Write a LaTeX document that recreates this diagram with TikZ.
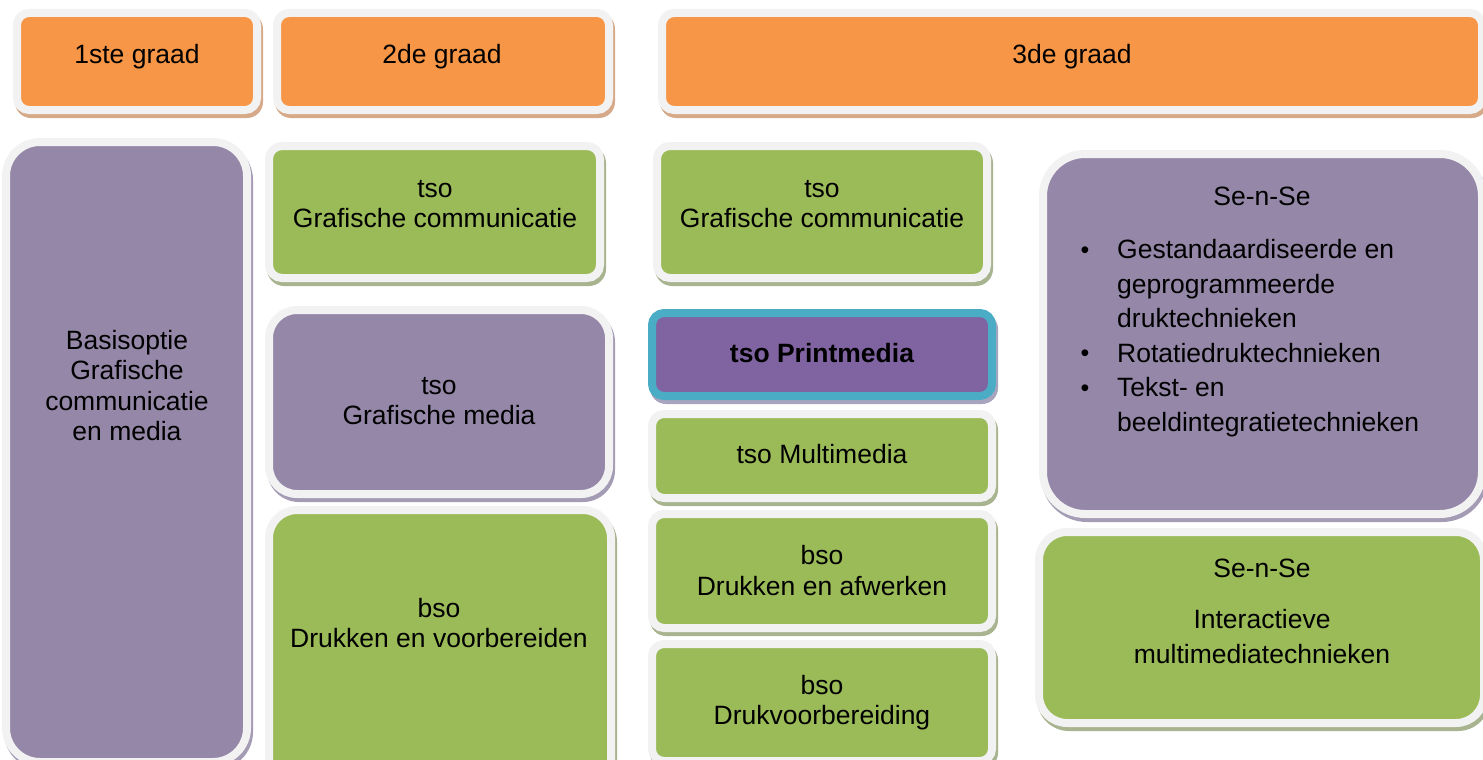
\documentclass[tikz,border=0pt]{standalone}
\usepackage{fontspec}
\setmainfont{Liberation Sans}
\definecolor{cOrange}{HTML}{F79646}
\definecolor{cGreen}{HTML}{9BBB59}
\definecolor{cLilac}{HTML}{9587A8}
\definecolor{cPm}{HTML}{8064A2}
\definecolor{cTeal}{HTML}{4BACC6}
\definecolor{cBorder}{HTML}{F2F2F2}
\definecolor{sOrange}{HTML}{D6AA88}
\definecolor{sGreen}{HTML}{A8B48F}
\definecolor{sLilac}{HTML}{A49BB5}
\definecolor{sPm}{HTML}{A9A4BE}
% #1 name, #2 x1, #3 y1, #4 x2, #5 y2 (inner fill), #6 fill, #7 border, #8 shadow, #9 radius
\newcommand\cbox[9]{%
  \fill[#8, rounded corners=#9+8] (#2-6,#3-4) rectangle (#4+10,#5+12);
  \node[cb, fill=#6, draw=#7, rounded corners=#9+4,
        minimum width={#4-#2+8}, minimum height={#5-#3+8}]
        (#1) at ({(#2+#4)/2},{(#3+#5)/2}) {};
}
\begin{document}
\begin{tikzpicture}[x=1pt,y=-1pt,
  cb/.style={rectangle, inner sep=0pt, outer sep=0pt, line width=8pt},
  lbl/.style={font=\fontsize{26.5}{30.5}\selectfont, align=center, anchor=base, inner sep=0pt, text=black},
  bul/.style={lbl, font=\fontsize{25}{30}\selectfont}]
\useasboundingbox (0,0) rectangle (1483,760);
\fill[white] (0,0) rectangle (1483,760);
\clip (0,0) rectangle (1483,760);
% header row
\cbox{h1}{21}{17}{253}{106}{cOrange}{cBorder}{sOrange}{8}
\cbox{h2}{281}{17}{605}{106}{cOrange}{cBorder}{sOrange}{8}
\cbox{h3}{666}{17}{1478}{106}{cOrange}{cBorder}{sOrange}{8}
% first grade
\cbox{basis}{10}{146}{243}{758}{cLilac}{cBorder}{sLilac}{30}
% second grade
\cbox{g2a}{273}{150}{596}{274}{cGreen}{cBorder}{sGreen}{9}
\cbox{g2b}{273}{314}{605}{490}{cLilac}{cBorder}{sLilac}{24}
\cbox{g2c}{273}{514}{607}{790}{cGreen}{cBorder}{sGreen}{24}
% third grade
\cbox{g3a}{661}{150}{983}{274}{cGreen}{cBorder}{sGreen}{9}
\cbox{pm}{656}{317}{988}{392}{cPm}{cTeal}{sPm}{8}
\cbox{mm}{656}{418}{988}{494}{cGreen}{cBorder}{sGreen}{8}
\cbox{da}{656}{518}{988}{624}{cGreen}{cBorder}{sGreen}{8}
\cbox{dv}{656}{648}{988}{757}{cGreen}{cBorder}{sGreen}{8}
% Se-n-Se
\cbox{s1}{1047}{158}{1478}{510}{cLilac}{cBorder}{sLilac}{38}
\cbox{s2}{1043}{536}{1480}{719}{cGreen}{cBorder}{sGreen}{24}
% texts (base anchor = baseline of last line)
\node[lbl] (t1) at (137,63.3) {1ste graad};
\node[lbl] (t2) at (442,63.3) {2de graad};
\node[lbl] (t3) at (1072,63.3) {3de graad};
\node[lbl] (tb) at (127,440.5) {Basisoptie\\Grafische\\communicatie\\en media};
\node[lbl] (t2a) at (435,227.5) {tso\\Grafische communicatie};
\node[lbl] (t2b) at (439,424.5) {tso\\Grafische media};
\node[lbl] (t2c) at (439,647.5) {bso\\Drukken en voorbereiden};
\node[lbl] (t3a) at (822,227.5) {tso\\Grafische communicatie};
\node[lbl, font=\fontsize{26.5}{30.5}\selectfont\bfseries] (t3b) at (822,362) {tso Printmedia};
\node[lbl] (t3c) at (822,463.5) {tso Multimedia};
\node[lbl] (t3d) at (822,595) {bso\\Drukken en afwerken};
\node[lbl] (t3e) at (822,724.5) {bso\\Drukvoorbereiding};
\node[lbl] (ts1) at (1262,205.5) {Se-n-Se};
\node[lbl, anchor=base west, align=left, font=\fontsize{26.5}{34.5}\selectfont] (tl) at (1117,431)
  {Gestandaardiseerde en\\geprogrammeerde\\druktechnieken\\Rotatiedruktechnieken\\Tekst- en\\beeldintegratietechnieken};
\node[bul] (b1) at (1085,258) {\textbullet};
\node[bul] (b2) at (1085,361.5) {\textbullet};
\node[bul] (b3) at (1085,396) {\textbullet};
\node[lbl] (ts2) at (1262,577.5) {Se-n-Se};
\node[lbl, font=\fontsize{26.5}{35}\selectfont] (ts2b) at (1262,663.5) {Interactieve\\multimediatechnieken};
\end{tikzpicture}
\end{document}
